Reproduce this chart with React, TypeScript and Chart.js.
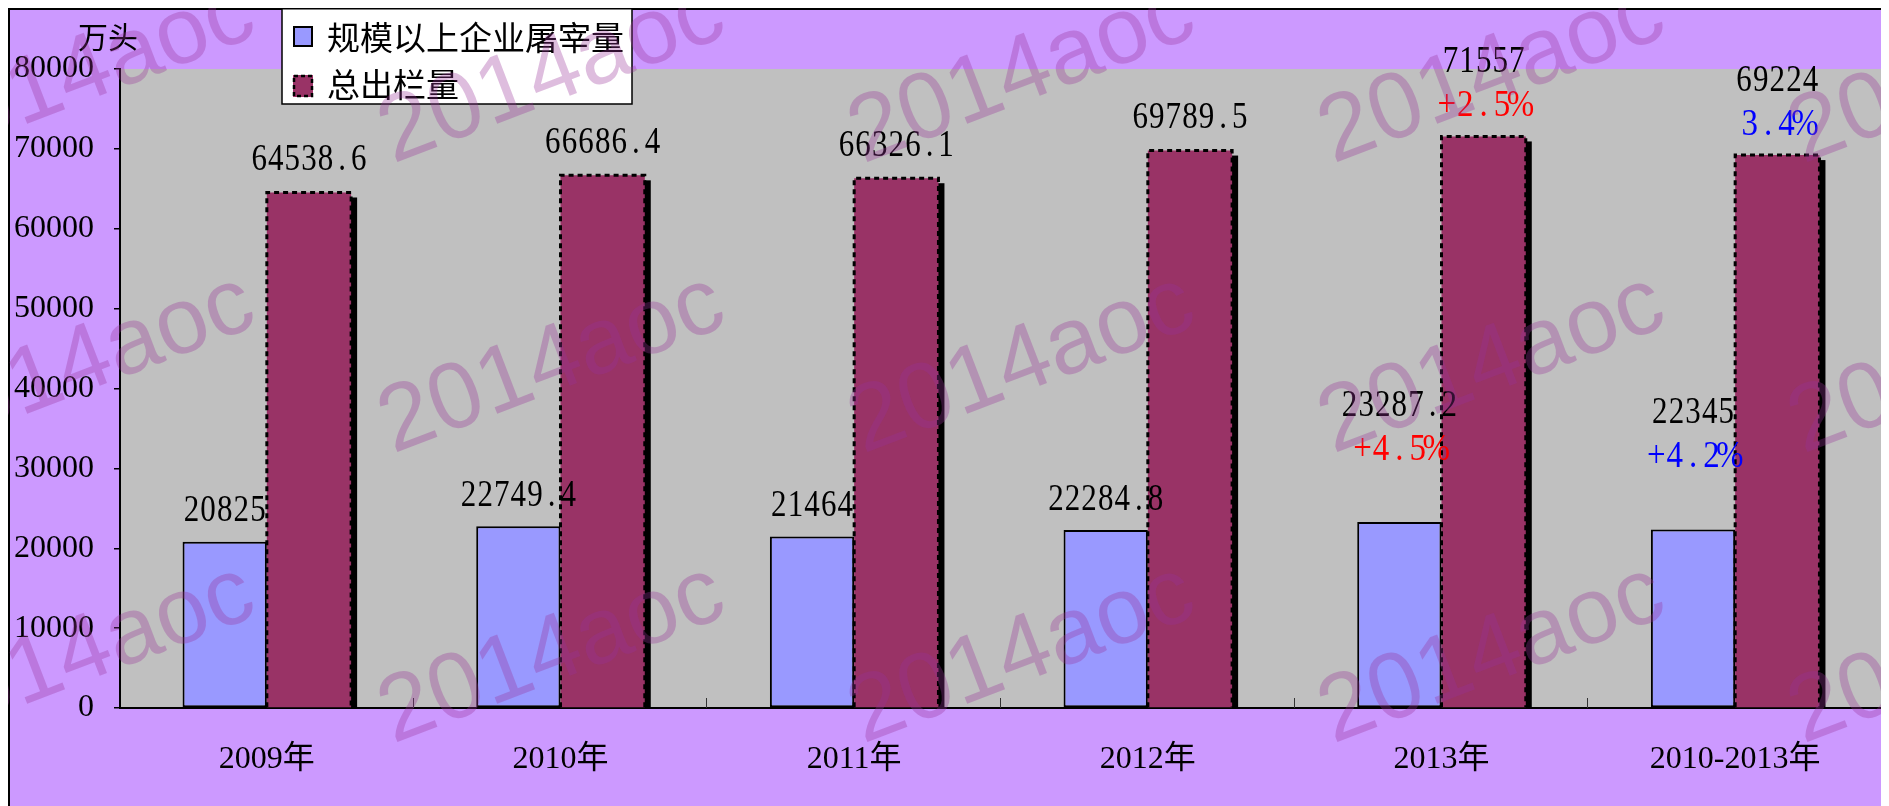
import React, { useEffect, useRef } from "react";
import { Chart, registerables } from "chart.js";

Chart.register(...registerables);

const categories = ["2009年", "2010年", "2011年", "2012年", "2013年", "2010-2013年"];
const seriesNames = ["规模以上企业屠宰量", "总出栏量"];
const slaughterValues = [20825, 22749.4, 21464, 22284.8, 23287.2, 22345];
const outputValues = [64538.6, 66686.4, 66326.1, 69789.5, 71557, 69224];
const slaughterLabels = ["20825", "22749.4", "21464", "22284.8", "23287.2", "22345"];
const outputLabels = ["64538.6", "66686.4", "66326.1", "69789.5", "71557", "69224"];
const slaughterNotes = ["", "", "", "", "+4.5%", "+4.2%"];
const slaughterNoteColors = ["", "", "", "", "#FF0000", "#0000FF"];
const outputNotes = ["", "", "", "", "+2.5%", "3.4%"];
const outputNoteColors = ["", "", "", "", "#FF0000", "#0000FF"];
const yMin = 0;
const yMax = 80000;
const yStep = 10000;
const unitLabel = "万头";
const watermarkText = "2014aoc";

const SERIF = "'Liberation Serif', 'Noto Sans CJK SC', serif";
const CJK = "'Noto Sans CJK SC', sans-serif";

// draws text in fixed-width cells (like a half-width Song typeface), stretched vertically
function cellText(
  ctx: CanvasRenderingContext2D,
  text: string,
  cx: number,
  cy: number,
  color: string,
  size: number,
  cell: number,
  sy: number
) {
  ctx.save();
  ctx.translate(cx, cy);
  ctx.scale(1, sy);
  ctx.fillStyle = color;
  ctx.font = `${size}px ${SERIF}`;
  ctx.textAlign = "center";
  ctx.textBaseline = "middle";
  const total = text.length * cell;
  for (let i = 0; i < text.length; i++) {
    ctx.fillText(text[i], -total / 2 + cell * (i + 0.5), 0);
  }
  ctx.restore();
}

const decorPlugin = {
  id: "decor",
  beforeDraw(chart: any) {
    const { ctx, width, height, chartArea } = chart;
    ctx.save();
    ctx.fillStyle = "#CC99FF";
    ctx.fillRect(0, 0, width, height);
    ctx.fillStyle = "#C0C0C0";
    ctx.fillRect(chartArea.left, chartArea.top, chartArea.right - chartArea.left, chartArea.bottom - chartArea.top);
    ctx.strokeStyle = "#000";
    ctx.lineWidth = 2;
    ctx.strokeRect(1, 1, width - 2, height + 50);
    ctx.restore();
  },
  beforeDatasetsDraw(chart: any) {
    const { ctx } = chart;
    const meta = chart.getDatasetMeta(1);
    ctx.save();
    ctx.fillStyle = "#000";
    meta.data.forEach((el: any) => {
      const w = el.width;
      const left = el.x - w / 2 + 6;
      const top = el.y + 5;
      ctx.fillRect(left, top, w, el.base - top);
    });
    ctx.restore();
  },
  afterDatasetsDraw(chart: any) {
    const { ctx, chartArea } = chart;
    const meta1 = chart.getDatasetMeta(1);
    ctx.save();
    ctx.strokeStyle = "#000";
    ctx.lineWidth = 3;
    ctx.setLineDash([5, 4]);
    meta1.data.forEach((el: any) => {
      const w = el.width;
      const l = el.x - w / 2;
      const r = el.x + w / 2;
      ctx.beginPath();
      ctx.moveTo(l, el.base);
      ctx.lineTo(l, el.y);
      ctx.lineTo(r, el.y);
      ctx.lineTo(r, el.base);
      ctx.stroke();
    });
    ctx.restore();

    const xScale = chart.scales.x;
    const n = chart.data.labels.length;
    const cw = (chartArea.right - chartArea.left) / n;
    ctx.save();
    ctx.strokeStyle = "#333";
    ctx.lineWidth = 1;
    for (let i = 1; i <= n; i++) {
      const x = Math.round(xScale.left + i * cw) - 0.5;
      ctx.beginPath();
      ctx.moveTo(x, chartArea.bottom);
      ctx.lineTo(x, chartArea.bottom - 10);
      ctx.stroke();
    }
    ctx.restore();

    const meta0 = chart.getDatasetMeta(0);
    meta0.data.forEach((el: any, i: number) => {
      const hasNote = slaughterNotes[i] !== "";
      const vOff = hasNote ? 116 : 30;
      cellText(ctx, slaughterLabels[i], el.x, el.y - vOff, "#000", 31, 16.6, 1.2);
      if (hasNote) cellText(ctx, slaughterNotes[i], el.x, el.y - 72, slaughterNoteColors[i], 33, 18.4, 1.12);
    });
    meta1.data.forEach((el: any, i: number) => {
      const hasNote = outputNotes[i] !== "";
      const vOff = hasNote ? 74 : 32;
      cellText(ctx, outputLabels[i], el.x, el.y - vOff, "#000", 31, 16.6, 1.2);
      if (hasNote) cellText(ctx, outputNotes[i], el.x, el.y - 30, outputNoteColors[i], 33, 18.4, 1.12);
    });
  },
  afterDraw(chart: any) {
    const { ctx } = chart;
    const ds = chart.data.datasets;

    ctx.save();
    ctx.fillStyle = "#000";
    ctx.font = `30px ${CJK}`;
    ctx.textAlign = "center";
    ctx.textBaseline = "middle";
    ctx.fillText(unitLabel, 100, 29);
    ctx.restore();

    ctx.save();
    ctx.fillStyle = "#FFFFFF";
    ctx.fillRect(274, 0, 350, 96);
    ctx.strokeStyle = "#000";
    ctx.lineWidth = 1.5;
    ctx.strokeRect(274, 0.75, 350, 95.25);
    ctx.fillStyle = ds[0].backgroundColor;
    ctx.fillRect(285, 18, 20, 21);
    ctx.lineWidth = 2;
    ctx.strokeRect(286, 19, 18, 19);
    ctx.fillStyle = ds[1].backgroundColor;
    ctx.fillRect(285, 67, 20, 22);
    ctx.setLineDash([4, 3]);
    ctx.lineWidth = 2.5;
    ctx.strokeRect(286, 68, 18, 20);
    ctx.setLineDash([]);
    ctx.fillStyle = "#000";
    ctx.font = `33px ${CJK}`;
    ctx.textAlign = "left";
    ctx.textBaseline = "middle";
    ctx.fillText(ds[0].label, 319, 29);
    ctx.fillText(ds[1].label, 319, 76);
    ctx.restore();

    const xs = [74, 544, 1014, 1484, 1954];
    const ys = [67, 357, 647];
    ctx.save();
    ctx.fillStyle = "rgba(153, 51, 153, 0.32)";
    ctx.font = `94px 'Liberation Sans', Arial, sans-serif`;
    ctx.textAlign = "center";
    ctx.textBaseline = "middle";
    ys.forEach((y) => {
      xs.forEach((x) => {
        ctx.save();
        ctx.translate(x, y);
        ctx.rotate((-21 * Math.PI) / 180);
        ctx.fillText(watermarkText, 0, 0);
        ctx.restore();
      });
    });
    ctx.restore();
  },
};

export default function App() {
  const ref = useRef<HTMLCanvasElement>(null);

  useEffect(() => {
    document.body.style.overflow = "hidden";
    const canvas = ref.current!;
    const chart = new Chart(canvas, {
      type: "bar",
      data: {
        labels: categories,
        datasets: [
          {
            label: seriesNames[0],
            data: slaughterValues,
            backgroundColor: "#9999FF",
            borderColor: "#000000",
            borderWidth: 2,
            borderSkipped: false,
            categoryPercentage: 0.574,
            barPercentage: 1,
          },
          {
            label: seriesNames[1],
            data: outputValues,
            backgroundColor: "#993366",
            borderWidth: 0,
            categoryPercentage: 0.574,
            barPercentage: 1,
          },
        ],
      },
      options: {
        animation: false,
        responsive: true,
        maintainAspectRatio: false,
        devicePixelRatio: 1,
        layout: { padding: { top: 61, right: 1, left: 0, bottom: 0 } },
        plugins: {
          legend: { display: false },
          tooltip: { enabled: false },
          title: { display: false },
        },
        scales: {
          x: {
            z: 1,
            grid: { display: false, drawTicks: false },
            border: { display: true, color: "#000", width: 2 },
            ticks: {
              color: "#000",
              padding: 32,
              font: { family: SERIF, size: 32 },
              maxRotation: 0,
              autoSkip: false,
            },
            afterFit: (scale: any) => {
              scale.height = 98;
            },
          },
          y: {
            min: yMin,
            max: yMax,
            grid: { drawOnChartArea: false, drawTicks: true, tickLength: 6, tickColor: "#000", lineWidth: 1.5 },
            border: { display: true, color: "#000", width: 2 },
            ticks: {
              stepSize: yStep,
              color: "#000",
              padding: 20,
              font: { family: SERIF, size: 32 },
              callback: (v: any) => String(v),
            },
            afterFit: (scale: any) => {
              scale.width = 112;
            },
          },
        },
      },
      plugins: [decorPlugin],
    });
    return () => chart.destroy();
  }, []);

  return (
    <div style={{ position: "relative", width: 1875, height: 798 }}>
      <canvas ref={ref} />
    </div>
  );
}
